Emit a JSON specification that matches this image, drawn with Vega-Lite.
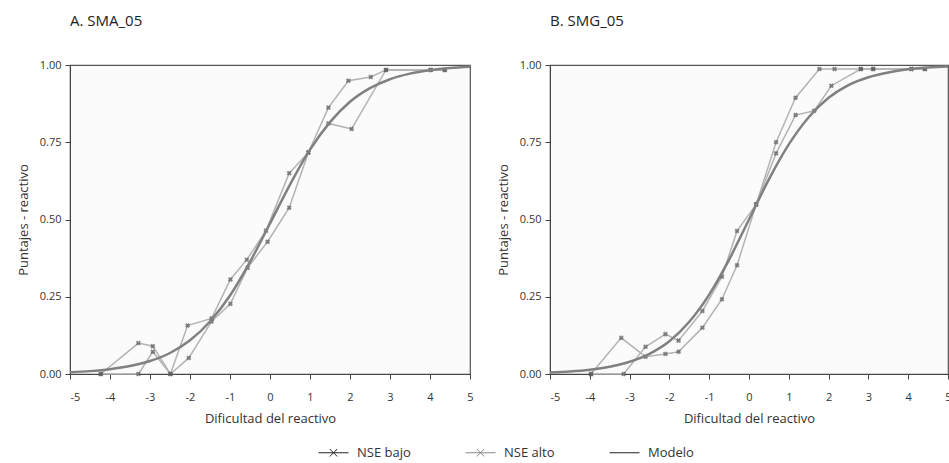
{
  "$schema": "https://vega.github.io/schema/vega-lite/v6.json",
  "background": "white",
  "padding": {"left": 16, "top": 13, "right": 0, "bottom": 0},
  "spacing": 20,
  "datasets": {
    "a_obs": [
      {"serie": "NSE alto", "x": -4.23, "y": 0.0},
      {"serie": "NSE alto", "x": -3.29, "y": 0.10},
      {"serie": "NSE alto", "x": -2.93, "y": 0.09},
      {"serie": "NSE alto", "x": -2.49, "y": 0.0},
      {"serie": "NSE alto", "x": -2.06, "y": 0.157},
      {"serie": "NSE alto", "x": -1.46, "y": 0.18},
      {"serie": "NSE alto", "x": -0.99, "y": 0.306},
      {"serie": "NSE alto", "x": -0.58, "y": 0.37},
      {"serie": "NSE alto", "x": -0.1, "y": 0.464},
      {"serie": "NSE alto", "x": 0.48, "y": 0.65},
      {"serie": "NSE alto", "x": 0.96, "y": 0.717},
      {"serie": "NSE alto", "x": 1.46, "y": 0.862},
      {"serie": "NSE alto", "x": 1.96, "y": 0.949},
      {"serie": "NSE alto", "x": 2.52, "y": 0.961},
      {"serie": "NSE alto", "x": 2.9, "y": 0.984},
      {"serie": "NSE alto", "x": 4.02, "y": 0.984},
      {"serie": "NSE alto", "x": 4.37, "y": 0.984},
      {"serie": "NSE bajo", "x": -4.23, "y": 0.0},
      {"serie": "NSE bajo", "x": -3.29, "y": 0.0},
      {"serie": "NSE bajo", "x": -2.93, "y": 0.072},
      {"serie": "NSE bajo", "x": -2.49, "y": 0.0},
      {"serie": "NSE bajo", "x": -2.03, "y": 0.052},
      {"serie": "NSE bajo", "x": -1.46, "y": 0.17},
      {"serie": "NSE bajo", "x": -0.99, "y": 0.227},
      {"serie": "NSE bajo", "x": -0.56, "y": 0.344},
      {"serie": "NSE bajo", "x": -0.06, "y": 0.428},
      {"serie": "NSE bajo", "x": 0.48, "y": 0.538},
      {"serie": "NSE bajo", "x": 0.96, "y": 0.717},
      {"serie": "NSE bajo", "x": 1.46, "y": 0.811},
      {"serie": "NSE bajo", "x": 2.04, "y": 0.793},
      {"serie": "NSE bajo", "x": 2.9, "y": 0.984},
      {"serie": "NSE bajo", "x": 4.02, "y": 0.984},
      {"serie": "NSE bajo", "x": 4.37, "y": 0.984}
    ],
    "a_mod": [
      {"x": -5, "y": 0.0056}, {"x": -4.5, "y": 0.0093}, {"x": -4, "y": 0.0155},
      {"x": -3.5, "y": 0.0256}, {"x": -3, "y": 0.042}, {"x": -2.5, "y": 0.068},
      {"x": -2, "y": 0.109}, {"x": -1.5, "y": 0.17}, {"x": -1, "y": 0.254},
      {"x": -0.5, "y": 0.363}, {"x": 0, "y": 0.487}, {"x": 0.5, "y": 0.613},
      {"x": 1, "y": 0.726}, {"x": 1.5, "y": 0.815}, {"x": 2, "y": 0.881},
      {"x": 2.5, "y": 0.925}, {"x": 3, "y": 0.954}, {"x": 3.5, "y": 0.972},
      {"x": 4, "y": 0.983}, {"x": 4.5, "y": 0.99}, {"x": 5, "y": 0.994}
    ],
    "b_obs": [
      {"serie": "NSE alto", "x": -3.97, "y": 0.0},
      {"serie": "NSE alto", "x": -3.15, "y": 0.0},
      {"serie": "NSE alto", "x": -2.6, "y": 0.088},
      {"serie": "NSE alto", "x": -2.1, "y": 0.129},
      {"serie": "NSE alto", "x": -1.77, "y": 0.108},
      {"serie": "NSE alto", "x": -1.17, "y": 0.204},
      {"serie": "NSE alto", "x": -0.68, "y": 0.315},
      {"serie": "NSE alto", "x": -0.3, "y": 0.463},
      {"serie": "NSE alto", "x": 0.18, "y": 0.549},
      {"serie": "NSE alto", "x": 0.68, "y": 0.714},
      {"serie": "NSE alto", "x": 1.17, "y": 0.838},
      {"serie": "NSE alto", "x": 1.64, "y": 0.852},
      {"serie": "NSE alto", "x": 2.07, "y": 0.933},
      {"serie": "NSE alto", "x": 2.81, "y": 0.987},
      {"serie": "NSE alto", "x": 3.12, "y": 0.987},
      {"serie": "NSE alto", "x": 4.08, "y": 0.987},
      {"serie": "NSE alto", "x": 4.42, "y": 0.987},
      {"serie": "NSE bajo", "x": -3.97, "y": 0.0},
      {"serie": "NSE bajo", "x": -3.21, "y": 0.117},
      {"serie": "NSE bajo", "x": -2.6, "y": 0.056},
      {"serie": "NSE bajo", "x": -2.1, "y": 0.065},
      {"serie": "NSE bajo", "x": -1.77, "y": 0.072},
      {"serie": "NSE bajo", "x": -1.17, "y": 0.15},
      {"serie": "NSE bajo", "x": -0.68, "y": 0.242},
      {"serie": "NSE bajo", "x": -0.3, "y": 0.352},
      {"serie": "NSE bajo", "x": 0.18, "y": 0.549},
      {"serie": "NSE bajo", "x": 0.68, "y": 0.75},
      {"serie": "NSE bajo", "x": 1.17, "y": 0.894},
      {"serie": "NSE bajo", "x": 1.77, "y": 0.987},
      {"serie": "NSE bajo", "x": 2.15, "y": 0.987},
      {"serie": "NSE bajo", "x": 2.81, "y": 0.987},
      {"serie": "NSE bajo", "x": 3.12, "y": 0.987},
      {"serie": "NSE bajo", "x": 4.08, "y": 0.987},
      {"serie": "NSE bajo", "x": 4.42, "y": 0.987}
    ],
    "b_mod": [
      {"x": -5, "y": 0.0049}, {"x": -4.5, "y": 0.0083}, {"x": -4, "y": 0.014},
      {"x": -3.5, "y": 0.0236}, {"x": -3, "y": 0.0395}, {"x": -2.5, "y": 0.0654},
      {"x": -2, "y": 0.106}, {"x": -1.5, "y": 0.169}, {"x": -1, "y": 0.257},
      {"x": -0.5, "y": 0.37}, {"x": 0, "y": 0.5}, {"x": 0.5, "y": 0.63},
      {"x": 1, "y": 0.743}, {"x": 1.5, "y": 0.831}, {"x": 2, "y": 0.894},
      {"x": 2.5, "y": 0.935}, {"x": 3, "y": 0.9605}, {"x": 3.5, "y": 0.976},
      {"x": 4, "y": 0.986}, {"x": 4.5, "y": 0.992}, {"x": 5, "y": 0.995}
    ],
    "leyenda": [
      {"serie": "NSE bajo", "x": 0, "y": 0.5},
      {"serie": "NSE alto", "x": 0, "y": 0.5},
      {"serie": "Modelo", "x": 0, "y": 0.5}
    ]
  },
  "config": {
    "font": "Open Sans",
    "view": {"fill": "#fbfbfb", "stroke": "#555", "strokeWidth": 1.2},
    "axis": {
      "grid": false,
      "domainColor": "#444",
      "tickColor": "#444",
      "labelColor": "#333",
      "titleColor": "#333",
      "labelFontSize": 11,
      "titleFontSize": 13,
      "titleFontWeight": "normal",
      "tickSize": 5
    },
    "title": {"fontSize": 15, "fontWeight": "normal", "color": "#222", "anchor": "start", "frame": "group", "offset": 30},
    "legend": {"labelFontSize": 13, "labelColor": "#333"}
  },
  "hconcat": [
    {
      "title": "A. SMA_05",
      "width": 400,
      "height": 309,
      "layer": [
        {
          "data": {"name": "a_obs"},
          "mark": {"type": "line", "color": "#b3b3b3", "strokeWidth": 1.5},
          "encoding": {
            "x": {"field": "x", "type": "quantitative"},
            "y": {"field": "y", "type": "quantitative"},
            "detail": {"field": "serie"}
          }
        },
        {
          "data": {"name": "a_obs"},
          "mark": {"type": "point", "shape": "cross", "angle": 45, "filled": true, "color": "#5a5a5a", "size": 26},
          "encoding": {
            "x": {"field": "x", "type": "quantitative"},
            "y": {"field": "y", "type": "quantitative"}
          }
        },
        {
          "data": {"name": "a_mod"},
          "mark": {"type": "line", "color": "#808080", "strokeWidth": 2.5, "interpolate": "monotone"},
          "encoding": {
            "x": {"field": "x", "type": "quantitative"},
            "y": {"field": "y", "type": "quantitative"}
          }
        }
      ],
      "encoding": {
        "x": {
          "field": "x", "type": "quantitative",
          "scale": {"domain": [-5, 5], "nice": false, "zero": false},
          "axis": {"title": "Dificultad del reactivo", "values": [-5, -4, -3, -2, -1, 0, 1, 2, 3, 4, 5], "labelExpr": "datum.value < 0 ? '-' + abs(datum.value) : '' + datum.value", "labelPadding": 12, "titlePadding": 10,
            "labelAlign": {"condition": {"test": "datum.value == -5", "value": "left"}, "value": "center"}}
        },
        "y": {
          "field": "y", "type": "quantitative",
          "scale": {"domain": [0, 1], "nice": false},
          "axis": {"title": "Puntajes - reactivo", "values": [0, 0.25, 0.5, 0.75, 1], "format": ".2f", "labelPadding": 4, "titlePadding": 9}
        }
      }
    },
    {
      "title": "B. SMG_05",
      "width": 398,
      "height": 309,
      "layer": [
        {
          "data": {"name": "b_obs"},
          "mark": {"type": "line", "color": "#b3b3b3", "strokeWidth": 1.5},
          "encoding": {
            "x": {"field": "x", "type": "quantitative"},
            "y": {"field": "y", "type": "quantitative"},
            "detail": {"field": "serie"}
          }
        },
        {
          "data": {"name": "b_obs"},
          "mark": {"type": "point", "shape": "cross", "angle": 45, "filled": true, "color": "#5a5a5a", "size": 26},
          "encoding": {
            "x": {"field": "x", "type": "quantitative"},
            "y": {"field": "y", "type": "quantitative"}
          }
        },
        {
          "data": {"name": "b_mod"},
          "mark": {"type": "line", "color": "#808080", "strokeWidth": 2.5, "interpolate": "monotone"},
          "encoding": {
            "x": {"field": "x", "type": "quantitative"},
            "y": {"field": "y", "type": "quantitative"}
          }
        },
        {
          "data": {"name": "leyenda"},
          "mark": {"type": "point", "filled": false, "opacity": 0},
          "encoding": {
            "x": {"field": "x", "type": "quantitative"},
            "y": {"field": "y", "type": "quantitative"},
            "color": {
              "field": "serie", "type": "nominal",
              "scale": {"domain": ["NSE bajo", "NSE alto", "Modelo"], "range": ["#222", "#8a8a8a", "#222"]},
              "legend": {"title": null, "orient": "none", "direction": "horizontal", "legendX": 248, "legendY": 372, "symbolOpacity": 1, "symbolSize": 900, "symbolStrokeWidth": 1, "columnPadding": 52, "labelOffset": 8,
                "labelExpr": "datum.label == 'NSE alto' ? 'NSE alto\u00a0\u00a0\u00a0\u00a0\u00a0\u00a0\u00a0' : datum.label"}
            },
            "shape": {
              "field": "serie", "type": "nominal",
              "scale": {"domain": ["NSE bajo", "NSE alto", "Modelo"], "range": ["M-1,0H1M-0.25,-0.25L0.25,0.25M-0.25,0.25L0.25,-0.25", "M-1,0H1M-0.25,-0.25L0.25,0.25M-0.25,0.25L0.25,-0.25", "M-1,0H1"]},
              "legend": {"title": null, "orient": "none", "direction": "horizontal", "legendX": 248, "legendY": 372, "symbolOpacity": 1, "symbolSize": 900, "symbolStrokeWidth": 1, "columnPadding": 52, "labelOffset": 8,
                "labelExpr": "datum.label == 'NSE alto' ? 'NSE alto\u00a0\u00a0\u00a0\u00a0\u00a0\u00a0\u00a0' : datum.label"}
            }
          }
        }
      ],
      "encoding": {
        "x": {
          "field": "x", "type": "quantitative",
          "scale": {"domain": [-5, 5], "nice": false, "zero": false},
          "axis": {"title": "Dificultad del reactivo", "values": [-5, -4, -3, -2, -1, 0, 1, 2, 3, 4, 5], "labelExpr": "datum.value < 0 ? '-' + abs(datum.value) : '' + datum.value", "labelPadding": 12, "titlePadding": 10,
            "labelAlign": {"condition": {"test": "datum.value == -5", "value": "left"}, "value": "center"}}
        },
        "y": {
          "field": "y", "type": "quantitative",
          "scale": {"domain": [0, 1], "nice": false},
          "axis": {"title": "Puntajes - reactivo", "values": [0, 0.25, 0.5, 0.75, 1], "format": ".2f", "labelPadding": 4, "titlePadding": 9}
        }
      }
    }
  ]
}
